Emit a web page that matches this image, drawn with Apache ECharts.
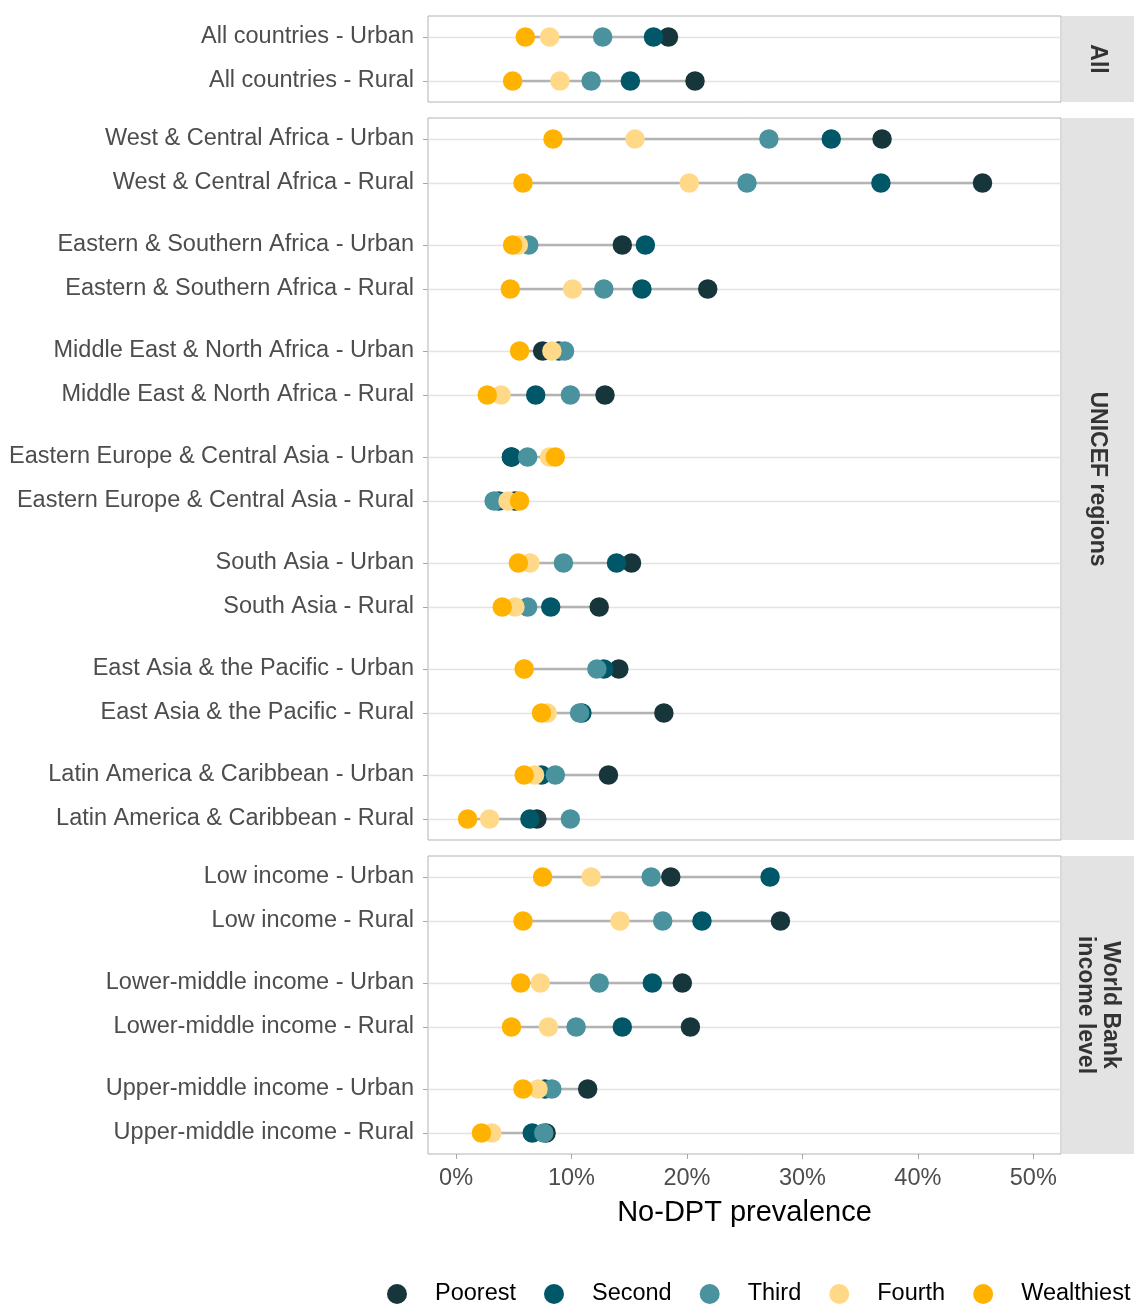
<!DOCTYPE html>
<html><head><meta charset="utf-8">
<script src="https://cdn.jsdelivr.net/npm/echarts@6/dist/echarts.min.js"></script>
<style>html,body{margin:0;padding:0;background:#fff}#c{width:1134px;height:1305px}</style>
</head><body><div id="c"></div>
<script>
// ---------------- DATA ----------------
const rowLabels = [
  'All countries - Urban', 'All countries - Rural',
  'West & Central Africa - Urban', 'West & Central Africa - Rural',
  'Eastern & Southern Africa - Urban', 'Eastern & Southern Africa - Rural',
  'Middle East & North Africa - Urban', 'Middle East & North Africa - Rural',
  'Eastern Europe & Central Asia - Urban', 'Eastern Europe & Central Asia - Rural',
  'South Asia - Urban', 'South Asia - Rural',
  'East Asia & the Pacific - Urban', 'East Asia & the Pacific - Rural',
  'Latin America & Caribbean - Urban', 'Latin America & Caribbean - Rural',
  'Low income - Urban', 'Low income - Rural',
  'Lower-middle income - Urban', 'Lower-middle income - Rural',
  'Upper-middle income - Urban', 'Upper-middle income - Rural'
];
const panelNames = ['All', 'UNICEF regions', 'World Bank\nincome level'];
const panelRowCounts = [2, 14, 6];
const quintiles = ['Poorest', 'Second', 'Third', 'Fourth', 'Wealthiest'];
// No-DPT prevalence (%) by wealth quintile, in row order
const poorest    = [18.4, 20.7, 36.9, 45.6, 14.4, 21.8, 7.5, 12.9, 4.8, 5.1, 15.2, 12.4, 14.1, 18.0, 13.2, 7.0, 18.6, 28.1, 19.6, 20.3, 11.4, 7.8];
const second     = [17.1, 15.1, 32.5, 36.8, 16.4, 16.1, 8.9, 6.9, 4.8, 3.7, 13.9, 8.2, 12.8, 10.9, 7.4, 6.4, 27.2, 21.3, 17.0, 14.4, 7.7, 6.6];
const third      = [12.7, 11.7, 27.1, 25.2, 6.3, 12.8, 9.4, 9.9, 6.2, 3.3, 9.3, 6.2, 12.2, 10.7, 8.6, 9.9, 16.9, 17.9, 12.4, 10.4, 8.3, 7.6];
const fourth     = [8.1, 9.0, 15.5, 20.2, 5.4, 10.1, 8.3, 3.9, 8.1, 4.5, 6.4, 5.1, 5.9, 7.9, 6.8, 2.9, 11.7, 14.2, 7.3, 8.0, 7.1, 3.1];
const wealthiest = [6.0, 4.9, 8.4, 5.8, 4.9, 4.7, 5.5, 2.7, 8.6, 5.5, 5.4, 4.0, 5.9, 7.4, 5.9, 1.0, 7.5, 5.8, 5.6, 4.8, 5.8, 2.2];
const xTicks = [0, 10, 20, 30, 40, 50];

// ---------------- STYLE / LAYOUT ----------------
const colors = ['#17363b', '#005767', '#4a929e', '#ffd987', '#ffb200'];
const series5 = [poorest, second, third, fourth, wealthiest];
const FONT = 'Liberation Sans, Arial, sans-serif';
const PANEL_TOPS = [16, 118, 856];
const PAIR = 44, GROUP = 106, PAD = 21;
const LEFT = 428, PANEL_W = 633, STRIP_W = 73;
const XMIN = -2.43, XMAX = 52.4;

function ypos(localIdx) { return Math.floor(localIdx / 2) * GROUP + (localIdx % 2) * PAIR; }

const grids = [], xAxes = [], yAxes = [], seriesList = [], graphics = [];
let rowStart = 0;
panelRowCounts.forEach((n, p) => {
  const rows = [];
  for (let i = 0; i < n; i++) rows.push(rowStart + i);
  const positions = rows.map((r, i) => ypos(i));
  const lastPos = positions[positions.length - 1];
  const height = lastPos + 2 * PAD;
  const top = PANEL_TOPS[p];
  grids.push({left: LEFT, top: top, width: PANEL_W, height: height, show: true,
    borderColor: '#b3b3b3', borderWidth: 1, backgroundColor: 'transparent', containLabel: false});
  const isBottom = p === panelRowCounts.length - 1;
  xAxes.push({
    type: 'value', gridIndex: p, min: XMIN, max: XMAX, position: 'bottom',
    axisLine: {show: false, onZero: false},
    axisTick: {show: isBottom, length: 5, lineStyle: {color: '#a6a6a6'}, customValues: xTicks},
    axisLabel: {show: isBottom, customValues: xTicks, formatter: v => v + '%',
      color: '#4d4d4d', fontSize: 23.5, fontFamily: FONT, margin: 13},
    splitLine: {show: false},
    name: isBottom ? 'No-DPT prevalence' : '',
    nameLocation: 'middle', nameGap: 44,
    nameTextStyle: {color: '#000', fontSize: 29, fontFamily: FONT}
  });
  yAxes.push({
    type: 'value', gridIndex: p, inverse: true, min: -PAD, max: lastPos + PAD, position: 'left',
    axisLine: {show: false, onZero: false},
    axisTick: {show: true, length: 5, lineStyle: {color: '#a6a6a6'}, customValues: positions},
    axisLabel: {customValues: positions, color: '#4d4d4d', fontSize: 23.5, fontFamily: FONT, margin: 14,
      padding: [9, 0, 0, 0],
      formatter: v => { const k = positions.findIndex(q => Math.abs(q - v) < 0.01); return k >= 0 ? rowLabels[rows[k]] : ''; }},
    splitLine: {show: true, lineStyle: {color: '#e3e3e3', width: 1.3}}
  });
  // segments
  seriesList.push({
    type: 'custom', xAxisIndex: p, yAxisIndex: p, silent: true, z: 1,
    data: rows.map((r, i) => {
      const vals = series5.map(s => s[r]);
      return [Math.min(...vals), Math.max(...vals), positions[i]];
    }),
    encode: {x: [0, 1], y: 2},
    renderItem: (params, api) => {
      const a = api.coord([api.value(0), api.value(2)]);
      const b = api.coord([api.value(1), api.value(2)]);
      return {type: 'line', shape: {x1: a[0], y1: a[1], x2: b[0], y2: b[1]},
        style: {stroke: '#b3b3b3', lineWidth: 2.6}};
    }
  });
  quintiles.forEach((q, k) => {
    seriesList.push({
      type: 'scatter', name: q, xAxisIndex: p, yAxisIndex: p, z: 2 + k,
      symbol: 'circle', symbolSize: 19.5,
      itemStyle: {color: colors[k], opacity: 1},
      emphasis: {disabled: true},
      data: rows.map((r, i) => [series5[k][r], positions[i]])
    });
  });
  // strip
  graphics.push({type: 'rect', left: LEFT + PANEL_W + 1, top: top, z: 0,
    shape: {width: STRIP_W, height: height}, style: {fill: '#e3e3e3'}});
  graphics.push({type: 'text', x: LEFT + PANEL_W + 1 + STRIP_W / 2 - 1, y: top + height / 2,
    rotation: -Math.PI / 2, z: 1,
    style: {text: panelNames[p], fill: '#333', fontSize: 23, fontWeight: 'bold', fontFamily: FONT,
      align: 'center', verticalAlign: 'middle', lineHeight: 25}});
  rowStart += n;
});

const chart = echarts.init(document.getElementById('c'), null, {renderer: 'canvas'});
chart.setOption({
  animation: false,
  backgroundColor: '#fff',
  color: colors,
  grid: grids, xAxis: xAxes, yAxis: yAxes, series: seriesList,
  graphic: graphics,
  legend: {
    data: quintiles, left: 387, top: 1282, width: 900, padding: 0, icon: 'circle',
    itemWidth: 20, itemHeight: 20, itemGap: 28,
    formatter: name => '{sp| }' + name,
    textStyle: {color: '#000', fontSize: 23.5, fontFamily: FONT, rich: {sp: {width: 23}}},
    selectedMode: false
  }
});
</script></body></html>
